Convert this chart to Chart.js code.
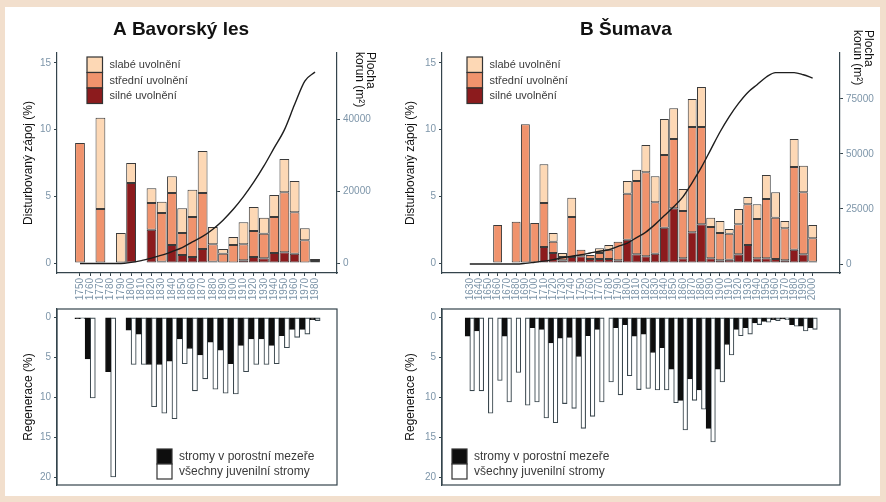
<!DOCTYPE html>
<html>
<head>
<meta charset="utf-8">
<title>Bavorský les a Šumava</title>
<script src="https://cdn.jsdelivr.net/npm/chart.js@4.4.0/dist/chart.umd.min.js"></script>
<style>
  html, body { margin: 0; padding: 0; background: #f2dfcd; }
  #panel { position: absolute; left: 5px; top: 7px; width: 875px; height: 489px; background: #fff; }
  canvas { position: absolute; }
</style>
</head>
<body>
<div id="panel"></div>
<canvas id="topA" style="left:5px;top:7px" width="385" height="300"></canvas>
<canvas id="topB" style="left:393px;top:7px" width="487" height="300"></canvas>
<canvas id="botA" style="left:5px;top:300px" width="385" height="200"></canvas>
<canvas id="botB" style="left:393px;top:300px" width="487" height="200"></canvas>
<script>
// --- A Bavorský les ---
var decadesA = [1750, 1760, 1770, 1780, 1790, 1800, 1810, 1820, 1830, 1840, 1850, 1860,
                1870, 1880, 1890, 1900, 1910, 1920, 1930, 1940, 1950, 1960, 1970, 1980];
var silneA    = [0, 0, 0, 0, 0, 6.0, 0, 2.5, 0.1, 1.35, 0.6, 0.45, 1.05, 0.1, 0, 0, 0.2, 0.45, 0.35, 0.75, 0.8, 0.7, 0, 0.15];
var stredniA  = [9.0, 0, 4.05, 0, 0, 0, 0, 2.0, 3.65, 3.9, 1.65, 3.0, 4.2, 1.3, 0.7, 1.35, 1.2, 1.95, 1.85, 2.7, 4.5, 3.1, 1.7, 0.15];
var slabeA    = [0, 0, 6.85, 0, 2.25, 1.5, 0, 1.1, 0.85, 1.25, 1.85, 2.05, 3.15, 1.3, 0.35, 0.6, 1.65, 1.8, 1.2, 1.65, 2.5, 2.35, 0.9, 0];
var plochaA   = [0, 0, 0, 0, 0, 300, 800, 1500, 2300, 3300, 4400, 6000, 7500, 9500, 12000, 15000,
                 18500, 22500, 27000, 32000, 37000, 44000, 50500, 53000];
var mezeraA   = [0.15, 5.2, null, 6.8, null, 1.6, 2.1, 5.9, 5.9, 5.5, 2.7, 3.9, 4.7, 3.1, 4.1, 5.8, 3.5, 2.7, 2.7, 3.5, 2.3, 1.5, 1.5, 0.3];
var juvenilA  = [0.15, 10.1, null, 20.0, null, 5.9, 5.9, 11.2, 12.0, 12.7, 5.8, 9.2, 7.7, 9.0, 9.5, 9.6, 6.8, 5.9, 5.9, 5.8, 3.8, 2.5, 2.1, 0.4];

// --- B Šumava ---
var decadesB = [1630, 1640, 1650, 1660, 1670, 1680, 1690, 1700, 1710, 1720, 1730, 1740, 1750,
                1760, 1770, 1780, 1790, 1800, 1810, 1820, 1830, 1840, 1850, 1860, 1870, 1880,
                1890, 1900, 1910, 1920, 1930, 1940, 1950, 1960, 1970, 1980, 1990, 2000];
var silneB   = [0, 0, 0, 0, 0, 0, 0, 0, 1.2, 0.75, 0.2, 0.45, 0.5, 0.3, 0.3, 0.3, 0.2, 1.75, 0.65, 0.5,
                0.7, 2.65, 4.1, 0.35, 2.3, 2.9, 0.35, 0.2, 0.25, 0.65, 1.35, 0.35, 0.35, 0.3, 0.2, 1.0, 0.65, 0.1];
var stredniB = [0, 0, 0, 2.85, 0, 3.1, 10.4, 3.0, 3.3, 0.85, 0.25, 3.0, 0.5, 0.3, 0.45, 0.7, 1.4, 3.45, 5.5, 6.3,
                3.85, 5.45, 5.2, 3.55, 7.9, 7.3, 2.35, 2.05, 1.95, 2.25, 3.05, 2.95, 4.45, 3.1, 2.4, 6.2, 4.65, 1.75];
var slabeB   = [0, 0, 0, 0, 0, 0, 0, 0, 2.9, 0.65, 0.3, 1.45, 0, 0, 0.35, 0.35, 0, 0.95, 0.85, 2.05,
                1.95, 2.7, 2.3, 1.65, 2.1, 3.0, 0.7, 0.9, 0.35, 1.15, 0.55, 1.1, 1.8, 1.9, 0.55, 2.1, 2.0, 1.0];
var plochaB  = [0, 0, 0, 0, 0, 0, 300, 800, 1300, 2000, 2800, 3500, 4200, 5000, 5800, 6500, 8000, 9500, 12000, 14500,
                18000, 22000, 26000, 30500, 37000, 44000, 52000, 60000, 67000, 73000, 78000, 81500, 85000, 87000, 87000, 87000, 86000, 84500];
var mezeraB  = [2.35, 1.7, 0, 0, 2.35, 0, 0, 1.3, 1.5, 3.2, 2.6, 2.5, 4.9, 2.3, 1.5, 0, 1.3, 0.9, 2.35, 2.1,
                4.4, 3.8, 6.5, 10.4, 7.7, 9.1, 13.9, 6.5, 3.4, 1.5, 1.3, 0.7, 0.5, 0.3, 0.2, 0.9, 1.1, 1.3];
var juvenilB = [9.2, 9.2, 12.0, 7.9, 10.6, 6.9, 11.0, 10.6, 12.6, 13.2, 10.8, 11.4, 13.9, 12.4, 10.6, 8.1, 9.7, 7.3, 9.05, 8.9,
                9.1, 9.1, 10.7, 14.1, 10.4, 11.5, 15.6, 8.1, 4.7, 2.3, 2.1, 0.9, 0.6, 0.4, 0.3, 1.1, 1.7, 1.5];

// tick labels
var zapojTicks = [0, 5, 10, 15];
var plochaTicksA = [0, 20000, 40000];
var plochaTicksB = [0, 25000, 50000, 75000];
var regenTicks = [0, 5, 10, 15, 20];

var axisColor = '#34444c';
var tickColor = '#7d95a9';
var font = '"Liberation Sans", Arial, sans-serif';
Chart.defaults.font.family = font;

function fixTicks(values) {
    return function (scale) { scale.ticks = values.map(function (v) { return { value: v }; }); };
}
function fixWidth(w) { return function (scale) { scale.width = w; }; }
function fixHeight(h) { return function (scale) { scale.height = h; }; }
function points(xs, ys) { return xs.map(function (x, i) { return { x: x, y: ys[i] }; }); }
function plain(v) { return String(v); }

// panel title and the rotated right axis caption
var panelText = {
    id: 'panelText',
    afterDraw: function (chart, args, o) {
        var ctx = chart.ctx, a = chart.chartArea;
        ctx.save();
        ctx.fillStyle = '#111';
        if (o.title) {
            ctx.font = 'bold 19px ' + font;
            ctx.textAlign = 'center';
            ctx.textBaseline = 'middle';
            ctx.fillText(o.title, a.left + o.titleDx, a.top + o.titleDy);
        }
        if (o.caption) {
            ctx.translate(a.right, a.top + o.captionDy);
            ctx.rotate(Math.PI / 2);
            ctx.font = '12px ' + font;
            ctx.textAlign = 'left';
            ctx.textBaseline = 'middle';
            o.caption.forEach(function (t, i) { ctx.fillText(t, 0, -(o.captionDx - 11 * i)); });
        }
        ctx.restore();
    }
};

// legend drawn inside the plot
var boxLegend = {
    id: 'boxLegend',
    afterDraw: function (chart, args, o) {
        if (!o.items) return;
        var ctx = chart.ctx, a = chart.chartArea;
        var x = a.left + o.dx, y = a.top + o.dy, s = o.size;
        ctx.save();
        ctx.font = o.fontSize + 'px ' + font;
        ctx.textBaseline = 'middle';
        ctx.lineWidth = 1.2;
        o.items.forEach(function (idx, k) {
            var ds = chart.data.datasets[idx];
            ctx.fillStyle = ds.backgroundColor;
            ctx.fillRect(x, y + k * s, s, s);
            ctx.strokeStyle = '#333';
            ctx.strokeRect(x, y + k * s, s, s);
            ctx.fillStyle = '#3a3a3a';
            ctx.fillText(ds.label, x + s + 7, y + k * s + s / 2 + 0.5);
        });
        ctx.restore();
    }
};

var frame = {
    id: 'frame',
    afterDraw: function (chart) {
        var ctx = chart.ctx, a = chart.chartArea;
        ctx.save();
        ctx.strokeStyle = axisColor;
        ctx.lineWidth = 1.2;
        ctx.strokeRect(a.left, a.top, a.right - a.left, a.bottom - a.top);
        ctx.restore();
    }
};

function barSet(label, years, values, color) {
    return {
        label: label, data: points(years, values), backgroundColor: color,
        borderColor: '#3a3a3a', borderWidth: 1, borderSkipped: false,
        barPercentage: 1, categoryPercentage: 0.96, order: 1
    };
}

function topChart(id, p) {
    return new Chart(document.getElementById(id), {
        type: 'bar',
        data: {
            datasets: [
                { type: 'line', label: 'Plocha korun', data: points(p.years, p.plocha), yAxisID: 'y2',
                  borderColor: '#1e1e1e', borderWidth: 1.4, pointRadius: 0, cubicInterpolationMode: 'monotone', order: 0 },
                barSet('silné uvolnění', p.years, p.silne, '#8c1b1d'),
                barSet('střední uvolnění', p.years, p.stredni, '#f0936d'),
                barSet('slabé uvolnění', p.years, p.slabe, '#fdd8b5')
            ]
        },
        options: {
            responsive: false,
            animation: false,
            layout: { padding: { left: p.padLeft, top: 46, right: 0, bottom: 0 } },
            plugins: {
                legend: { display: false },
                tooltip: { enabled: false },
                panelText: { title: p.title, titleDx: p.titleDx, titleDy: -23,
                             caption: ['Plocha', 'korun (m²)'], captionDx: p.captionDx, captionDy: p.captionDy },
                boxLegend: { items: [3, 2, 1], dx: p.legendDx, dy: 4, size: 15.5, fontSize: 11 }
            },
            scales: {
                x: {
                    type: 'linear', min: p.xMin, max: p.xMax, stacked: true, offset: false,
                    afterBuildTicks: fixTicks(p.years), afterFit: fixHeight(34),
                    ticks: { minRotation: 90, maxRotation: 90, autoSkip: false, color: tickColor,
                             font: { size: 10 }, padding: 2, callback: plain },
                    grid: { offset: false, drawOnChartArea: false, tickLength: 3, color: axisColor },
                    border: { color: axisColor, width: 1.2 }
                },
                y: {
                    min: -0.75, max: 15.75, stacked: true,
                    afterBuildTicks: fixTicks(zapojTicks), afterFit: fixWidth(p.yWidth),
                    ticks: { color: tickColor, font: { size: 10 }, padding: 3, callback: plain },
                    grid: { drawOnChartArea: false, tickLength: 3, color: axisColor },
                    border: { color: axisColor, width: 1.2 },
                    title: { display: true, text: 'Disturbovaný zápoj (%)', color: '#111', font: { size: 12 }, padding: 0 }
                },
                y2: {
                    position: 'right', min: p.y2Min, max: p.y2Max,
                    afterBuildTicks: fixTicks(p.y2Ticks), afterFit: fixWidth(p.y2Width),
                    ticks: { color: tickColor, font: { size: 10 }, padding: 3, callback: plain },
                    grid: { drawOnChartArea: false, tickLength: 3, color: axisColor },
                    border: { color: axisColor, width: 1.2 }
                }
            }
        },
        plugins: [panelText, boxLegend]
    });
}

function bottomChart(id, p) {
    return new Chart(document.getElementById(id), {
        type: 'bar',
        data: {
            datasets: [
                { label: 'stromy v porostní mezeře', data: points(p.years, p.mezera), backgroundColor: '#0e0e0e',
                  borderColor: '#0e0e0e', borderWidth: 1, borderSkipped: false, barPercentage: 1, categoryPercentage: 1 },
                { label: 'všechny juvenilní stromy', data: points(p.years, p.juvenil), backgroundColor: '#ffffff',
                  borderColor: '#3a474e', borderWidth: 1.1, borderSkipped: false, barPercentage: 1, categoryPercentage: 1 }
            ]
        },
        options: {
            responsive: false,
            animation: false,
            layout: { padding: { left: p.padLeft, top: 7, right: p.padRight, bottom: 15 } },
            plugins: {
                legend: { display: false },
                tooltip: { enabled: false },
                boxLegend: { items: [0, 1], dx: p.legendDx, dy: 140, size: 15, fontSize: 12 }
            },
            scales: {
                x: { type: 'linear', min: p.xMin, max: p.xMax, offset: false, display: false,
                     afterBuildTicks: fixTicks(p.years) },
                y: {
                    reverse: true, min: -1.05, max: 21,
                    afterBuildTicks: fixTicks(regenTicks), afterFit: fixWidth(p.yWidth),
                    ticks: { color: tickColor, font: { size: 10 }, padding: 3, callback: plain },
                    grid: { drawOnChartArea: false, tickLength: 3, color: axisColor },
                    border: { color: axisColor, width: 1.2 },
                    title: { display: true, text: 'Regenerace (%)', color: '#111', font: { size: 12 }, padding: 0 }
                }
            }
        },
        plugins: [frame, boxLegend]
    });
}

topChart('topA', {
    title: 'A Bavorský les', titleDx: 124, years: decadesA,
    silne: silneA, stredni: stredniA, slabe: slabeA, plocha: plochaA,
    padLeft: 16, yWidth: 36, y2Width: 53, xMin: 1727.5, xMax: 2001.5,
    y2Min: -2630, y2Max: 58270, y2Ticks: plochaTicksA,
    captionDx: 33, captionDy: -1, legendDx: 30
});
topChart('topB', {
    title: 'B Šumava', titleDx: 184, years: decadesB,
    silne: silneB, stredni: stredniB, slabe: slabeB, plocha: plochaB,
    padLeft: 10, yWidth: 39, y2Width: 40, xMin: 1600, xMax: 2029.5,
    y2Min: -4090, y2Max: 95900, y2Ticks: plochaTicksB,
    captionDx: 28, captionDy: -23, legendDx: 25
});
bottomChart('botA', {
    years: decadesA, mezera: mezeraA, juvenil: juvenilA,
    padLeft: 16, yWidth: 36, padRight: 53, xMin: 1727.5, xMax: 2001.5, legendDx: 100
});
bottomChart('botB', {
    years: decadesB, mezera: mezeraB, juvenil: juvenilB,
    padLeft: 10, yWidth: 39, padRight: 40, xMin: 1600, xMax: 2029.5, legendDx: 10
});
</script>
</body>
</html>
